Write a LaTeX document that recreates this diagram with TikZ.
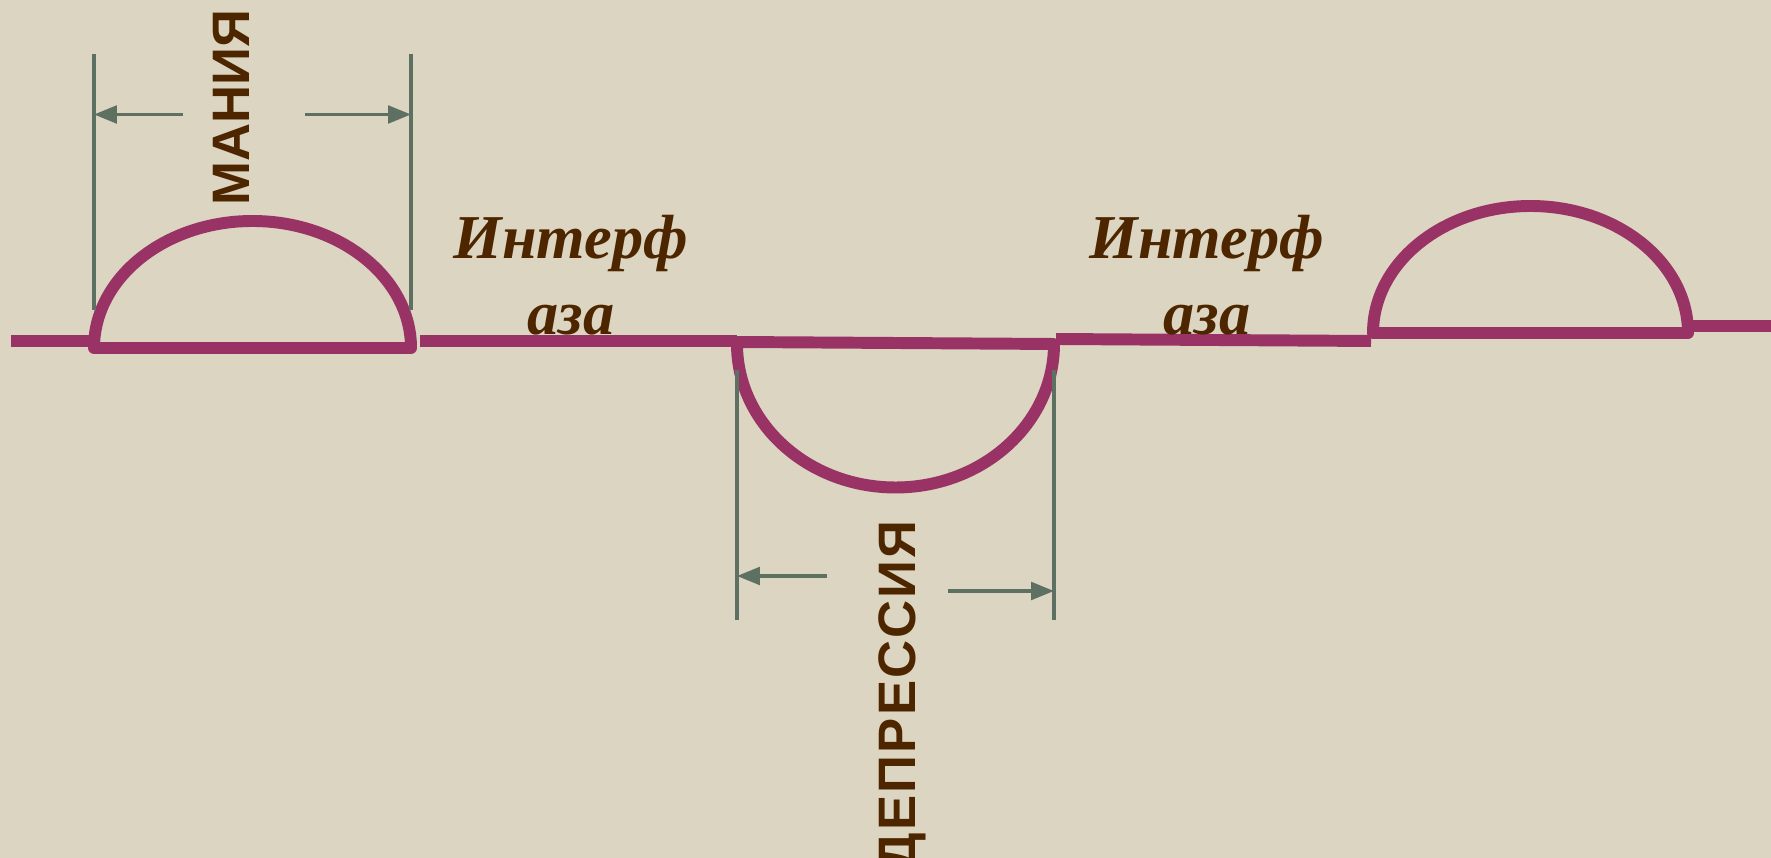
\documentclass[tikz,border=0pt]{standalone}
\usepackage{fontspec}
\setmainfont{Liberation Serif}
\setsansfont{Liberation Sans}
\usetikzlibrary{arrows.meta}
\definecolor{bgbeige}{HTML}{DCD5C1}
\definecolor{phaseplum}{HTML}{993366}
\definecolor{dimgreen}{HTML}{5E7062}
\definecolor{labelbrown}{HTML}{4D2600}

\begin{document}
\begin{tikzpicture}[
  x=0.02cm, y=0.02cm,
  axisline/.style={draw=phaseplum, line width=6.8pt},
  phase/.style={draw=phaseplum, line width=6.8pt, line join=round},
  dimline/.style={draw=dimgreen, line width=1.9pt},
  dimarrow/.style={dimline, -{Triangle[length=13pt, width=10pt]}},
  statelabel/.style={text=labelbrown, font=\sffamily\bfseries\fontsize{30}{36}\selectfont, rotate=90, inner sep=0pt},
  phaselabel/.style={text=labelbrown, font=\bfseries\itshape\fontsize{35.5}{43.7}\selectfont, align=center, inner sep=0pt}
]
\fill[bgbeige] (0,0) rectangle (1771,858);
\useasboundingbox (0,0) rectangle (1771,858);
\clip (0,0) rectangle (1771,858);

% time axis pieces
\coordinate (ax1a) at (11,517);    \coordinate (ax1b) at (92,517);
\coordinate (ax2a) at (420,517);   \coordinate (ax2b) at (737,517);
\coordinate (ax3a) at (1056,519);  \coordinate (ax3b) at (1371,517);
\coordinate (ax4a) at (1690,532);  \coordinate (ax4b) at (1771,532);
\draw[axisline] (ax1a) -- (ax1b);
\draw[axisline] (ax2a) -- (ax2b);
\draw[axisline] (ax3a) -- (ax3b);
\draw[axisline] (ax4a) -- (ax4b);

% phases
\coordinate (maniaL) at (94,510);    \coordinate (maniaR) at (411,510);
\coordinate (deprL) at (737,516);    \coordinate (deprR) at (1054,514);
\coordinate (mania2L) at (1373,525); \coordinate (mania2R) at (1688,525);
\draw[phase] (maniaL) -- (maniaR) arc[start angle=0, end angle=180, x radius=158.5, y radius=127] -- cycle;
\draw[phase] (deprL) -- (deprR) arc[start angle=0, end angle=-180, x radius=158.5, y radius=143.5] -- cycle;
\draw[phase] (mania2L) -- (mania2R) arc[start angle=0, end angle=180, x radius=157.5, y radius=127] -- cycle;

% dimension marks
\coordinate (mdimLt) at (94,804);   \coordinate (mdimLb) at (94,548);
\coordinate (mdimRt) at (411,804);  \coordinate (mdimRb) at (411,548);
\draw[dimline] (mdimLt) -- (mdimLb);
\draw[dimline] (mdimRt) -- (mdimRb);
\coordinate (marrL) at (183,743.5); \coordinate (mtipL) at (94,743.5);
\coordinate (marrR) at (305,743.5); \coordinate (mtipR) at (411,743.5);
\draw[dimarrow] (marrL) -- (mtipL);
\draw[dimarrow] (marrR) -- (mtipR);

\coordinate (ddimLt) at (737,488);  \coordinate (ddimLb) at (737,238);
\coordinate (ddimRt) at (1054,488); \coordinate (ddimRb) at (1054,238);
\draw[dimline] (ddimLt) -- (ddimLb);
\draw[dimline] (ddimRt) -- (ddimRb);
\coordinate (darrL) at (827,282);   \coordinate (dtipL) at (737,282);
\coordinate (darrR) at (948,267);   \coordinate (dtipR) at (1054,267);
\draw[dimarrow] (darrL) -- (dtipL);
\draw[dimarrow] (darrR) -- (dtipR);

% labels
\node[statelabel, anchor=base] (mania) at (249,750) {МАНИЯ};
\node[statelabel, anchor=base east] (depression) at (915,338) {\addfontfeature{LetterSpace=4}ДЕПРЕССИЯ};
\node[phaselabel, anchor=base] (inter1) at (571,523) {Интерф\\аза};
\node[phaselabel, anchor=base] (inter2) at (1207,523) {Интерф\\аза};
\end{tikzpicture}
\end{document}
